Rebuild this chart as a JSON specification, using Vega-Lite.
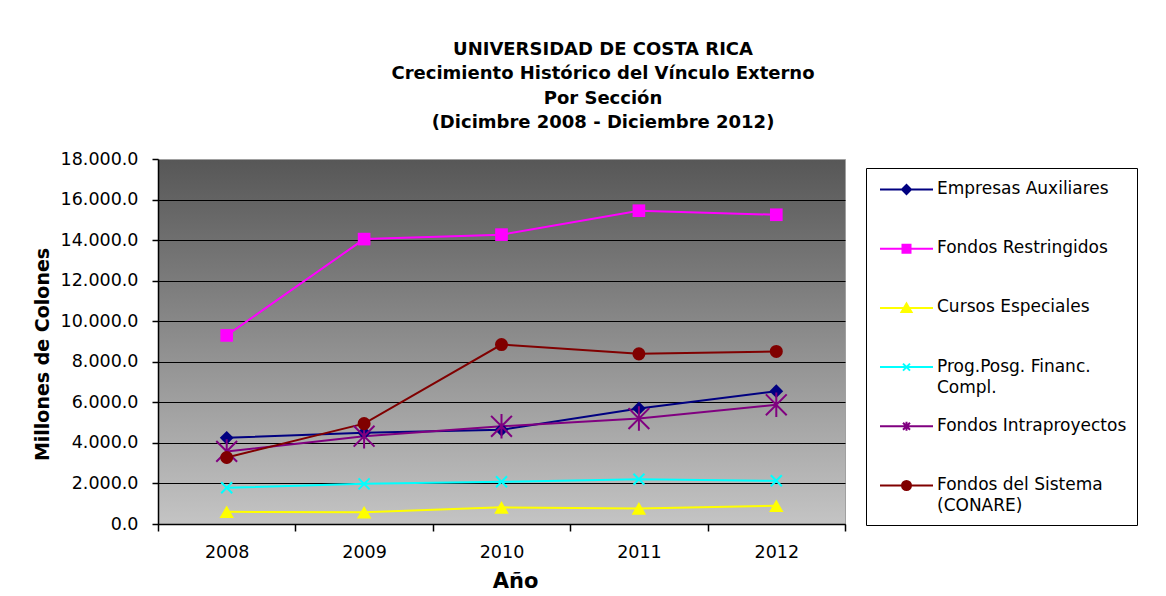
{
  "$schema": "https://vega.github.io/schema/vega-lite/v6.json",
  "width": 687,
  "height": 365,
  "autosize": {"type": "none"},
  "padding": {"left": 158, "top": 159, "right": 321, "bottom": 72},
  "background": "white",
  "config": {
    "font": "DejaVu Sans",
    "view": {
      "fill": {"gradient": "linear", "x1": 0, "y1": 0, "x2": 0, "y2": 1,
        "stops": [{"offset": 0, "color": "#575757"}, {"offset": 1, "color": "#c4c4c4"}]},
      "stroke": "#a0a0a0",
      "strokeWidth": 1
    },
    "axis": {
      "labelFont": "DejaVu Sans",
      "labelColor": "#000000",
      "domainColor": "#000000",
      "tickColor": "#000000",
      "titleColor": "#000000",
      "titleFont": "DejaVu Sans",
      "titleFontWeight": "bold"
    }
  },
  "title": {
    "text": ["UNIVERSIDAD DE COSTA RICA", "Crecimiento Histórico del Vínculo Externo", "Por Sección", "(Dicimbre 2008 - Diciembre 2012)"],
    "anchor": "middle",
    "frame": "group",
    "dx": 101.5,
    "offset": 0,
    "baseline": "bottom",
    "lineHeight": 24.3,
    "fontSize": 18,
    "font": "DejaVu Sans",
    "fontWeight": "bold",
    "color": "#000000"
  },
  "data": {
    "values": [
      {"anio": "2008", "serie": "Empresas Auxiliares", "valor": 4250},
      {"anio": "2009", "serie": "Empresas Auxiliares", "valor": 4500},
      {"anio": "2010", "serie": "Empresas Auxiliares", "valor": 4650},
      {"anio": "2011", "serie": "Empresas Auxiliares", "valor": 5700},
      {"anio": "2012", "serie": "Empresas Auxiliares", "valor": 6550},
      {"anio": "2008", "serie": "Fondos Restringidos", "valor": 9300},
      {"anio": "2009", "serie": "Fondos Restringidos", "valor": 14050},
      {"anio": "2010", "serie": "Fondos Restringidos", "valor": 14270},
      {"anio": "2011", "serie": "Fondos Restringidos", "valor": 15450},
      {"anio": "2012", "serie": "Fondos Restringidos", "valor": 15250},
      {"anio": "2008", "serie": "Cursos Especiales", "valor": 600},
      {"anio": "2009", "serie": "Cursos Especiales", "valor": 580},
      {"anio": "2010", "serie": "Cursos Especiales", "valor": 820},
      {"anio": "2011", "serie": "Cursos Especiales", "valor": 770},
      {"anio": "2012", "serie": "Cursos Especiales", "valor": 900},
      {"anio": "2008", "serie": "Prog.Posg. Financ. Compl.", "valor": 1790},
      {"anio": "2009", "serie": "Prog.Posg. Financ. Compl.", "valor": 1980},
      {"anio": "2010", "serie": "Prog.Posg. Financ. Compl.", "valor": 2080},
      {"anio": "2011", "serie": "Prog.Posg. Financ. Compl.", "valor": 2210},
      {"anio": "2012", "serie": "Prog.Posg. Financ. Compl.", "valor": 2130},
      {"anio": "2008", "serie": "Fondos Intraproyectos", "valor": 3580},
      {"anio": "2009", "serie": "Fondos Intraproyectos", "valor": 4330},
      {"anio": "2010", "serie": "Fondos Intraproyectos", "valor": 4820},
      {"anio": "2011", "serie": "Fondos Intraproyectos", "valor": 5200},
      {"anio": "2012", "serie": "Fondos Intraproyectos", "valor": 5880},
      {"anio": "2008", "serie": "Fondos del Sistema (CONARE)", "valor": 3280},
      {"anio": "2009", "serie": "Fondos del Sistema (CONARE)", "valor": 4950},
      {"anio": "2010", "serie": "Fondos del Sistema (CONARE)", "valor": 8850},
      {"anio": "2011", "serie": "Fondos del Sistema (CONARE)", "valor": 8390},
      {"anio": "2012", "serie": "Fondos del Sistema (CONARE)", "valor": 8510}
    ]
  },
  "encoding": {
    "x": {
      "field": "anio",
      "type": "ordinal",
      "scale": {"type": "band", "paddingInner": 0, "paddingOuter": 0},
      "axis": {
        "title": "Año",
        "titleFontSize": 21,
        "titleX": 357,
        "titleY": 46,
        "titleBaseline": "top",
        "labelAngle": 0,
        "labelFontSize": 17.5,
        "labelPadding": 12,
        "labelBaseline": "top",
        "tickSize": 7,
        "tickWidth": 1.5,
        "tickBand": "extent",
        "domainWidth": 1.5,
        "grid": false
      }
    },
    "y": {
      "field": "valor",
      "type": "quantitative",
      "scale": {"domain": [0, 18000], "nice": false},
      "axis": {
        "title": "Millones de Colones",
        "titleFontSize": 19,
        "titleX": -106,
        "titleY": 195,
        "values": [0, 2000, 4000, 6000, 8000, 10000, 12000, 14000, 16000, 18000],
        "labelExpr": "replace(format(datum.value, ',.1f'), ',', '.')",
        "labelFontSize": 17.5,
        "labelPadding": 14,
        "tickSize": 6,
        "tickWidth": 1.5,
        "domainWidth": 1.5,
        "grid": true,
        "gridColor": {"condition": {"test": "datum.value >= 18000", "value": "transparent"}, "value": "#000000"},
        "gridWidth": 1,
        "gridOpacity": 1
      }
    }
  },
  "layer": [
    {
      "mark": {"type": "line", "strokeWidth": 2},
      "encoding": {
        "color": {
          "field": "serie",
          "type": "nominal",
          "scale": {
            "domain": ["Empresas Auxiliares", "Fondos Restringidos", "Cursos Especiales", "Prog.Posg. Financ. Compl.", "Fondos Intraproyectos", "Fondos del Sistema (CONARE)"],
            "range": ["#000080", "#ff00ff", "#ffff00", "#00ffff", "#800080", "#800000"]
          },
          "legend": {
            "orient": "none",
            "legendX": 708,
            "legendY": 9,
            "title": null,
            "padding": 10.5,
            "strokeColor": "#000000",
            "fillColor": "#ffffff",
            "gridAlign": "all",
            "rowPadding": 19.2,
            "symbolSize": 400,
            "symbolOffset": 19,
            "symbolStrokeWidth": 2,
            "labelOffset": 19.5,
            "labelFont": "DejaVu Sans",
            "labelFontSize": 17,
            "labelColor": "#000000",
            "labelLimit": 300,
            "labelBaseline": "top",
            "labelExpr": "datum.label === 'Prog.Posg. Financ. Compl.' ? ['Prog.Posg. Financ.', 'Compl.'] : datum.label === 'Fondos del Sistema (CONARE)' ? ['Fondos del Sistema', '(CONARE)'] : [datum.label, '']",
            "encode": {
              "symbols": {
                "update": {
                  "shape": {"signal": "datum.value === 'Empresas Auxiliares' ? 'M-2.65,0L2.65,0M-0.45,0L0,-0.45L0.45,0L0,0.45Z' : datum.value === 'Fondos Restringidos' ? 'M-2.65,0L2.65,0M-0.4,-0.4L0.4,-0.4L0.4,0.4L-0.4,0.4Z' : datum.value === 'Cursos Especiales' ? 'M-2.65,0L2.65,0M0,-0.45L0.5,0.4L-0.5,0.4Z' : datum.value === 'Prog.Posg. Financ. Compl.' ? 'M-2.65,0L2.65,0M-0.35,-0.35L0.35,0.35M-0.35,0.35L0.35,-0.35' : datum.value === 'Fondos Intraproyectos' ? 'M-2.65,0L2.65,0M-0.35,-0.35L0.35,0.35M-0.35,0.35L0.35,-0.35M0,-0.45L0,0.45' : 'M-2.65,0L2.65,0M0.45,0A0.45,0.45,0,1,1,-0.45,0A0.45,0.45,0,1,1,0.45,0Z'"},
                  "fill": {"scale": "color", "field": "value"},
                  "stroke": {"scale": "color", "field": "value"},
                  "strokeWidth": {"value": 2},
                  "opacity": {"value": 1}
                }
              },
              "labels": {
                "update": {
                  "dy": {"value": -8.5},
                  "lineHeight": {"value": 21}
                }
              }
            }
          }
        }
      }
    },
    {
      "transform": [{"filter": {"field": "serie", "equal": "Empresas Auxiliares"}}],
      "mark": {"type": "point", "shape": "diamond", "filled": true, "color": "#000080", "size": 190, "opacity": 1}
    },
    {
      "transform": [{"filter": {"field": "serie", "equal": "Fondos Restringidos"}}],
      "mark": {"type": "point", "shape": "square", "filled": true, "color": "#ff00ff", "size": 160, "opacity": 1}
    },
    {
      "transform": [{"filter": {"field": "serie", "equal": "Cursos Especiales"}}],
      "mark": {"type": "point", "shape": "triangle-up", "filled": true, "color": "#ffff00", "size": 210, "opacity": 1}
    },
    {
      "transform": [{"filter": {"field": "serie", "equal": "Prog.Posg. Financ. Compl."}}],
      "mark": {"type": "point", "shape": "M-1,-1L1,1M-1,1L1,-1", "filled": false, "color": "#00ffff", "size": 121, "strokeWidth": 2, "opacity": 1}
    },
    {
      "transform": [{"filter": {"field": "serie", "equal": "Fondos Intraproyectos"}}],
      "mark": {"type": "point", "shape": "M-0.85,-0.85L0.85,0.85M-0.85,0.85L0.85,-0.85M0,-1L0,1", "filled": false, "color": "#800080", "size": 600, "strokeWidth": 2, "opacity": 1}
    },
    {
      "transform": [{"filter": {"field": "serie", "equal": "Fondos del Sistema (CONARE)"}}],
      "mark": {"type": "point", "shape": "circle", "filled": true, "color": "#800000", "size": 170, "opacity": 1}
    }
  ]
}
